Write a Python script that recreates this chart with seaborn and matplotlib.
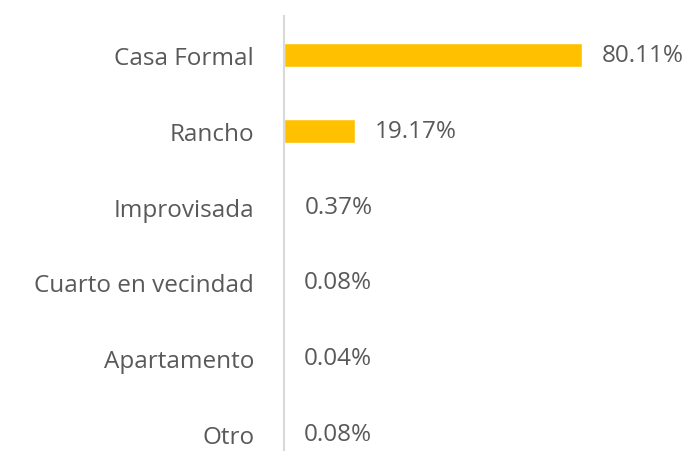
import matplotlib
matplotlib.use("Agg")
import matplotlib.pyplot as plt
import seaborn as sns
import pandas as pd

categories = ["Casa Formal", "Rancho", "Improvisada", "Cuarto en vecindad", "Apartamento", "Otro"]
values = [80.11, 19.17, 0.37, 0.08, 0.04, 0.08]
labels = ["80.11%", "19.17%", "0.37%", "0.08%", "0.04%", "0.08%"]

df = pd.DataFrame({"cat": categories, "val": values})

sns.set_style("white")
plt.rcParams["font.family"] = ["Open Sans", "DejaVu Sans"]

W, H = 690, 452
fig = plt.figure(figsize=(W / 100, H / 100), dpi=100)
ax = fig.add_axes([284 / W, 0, 372 / W, 435 / H])

sns.barplot(data=df, x="val", y="cat", orient="h", color="#FFC000",
            width=0.32, ax=ax, saturation=1)

ax.set_xlim(0, 100)
ax.set_ylim(5.224, -0.515)
ax.set_xlabel("")
ax.set_ylabel("")
ax.set_xticks([])
for s in ["top", "right", "bottom"]:
    ax.spines[s].set_visible(False)
ax.spines["left"].set_color("#D9D9D9")
ax.spines["left"].set_linewidth(1.5)
ax.tick_params(axis="y", length=0, pad=21.5, labelsize=17.5, labelcolor="#595959")

for i, (v, lab) in enumerate(zip(values, labels)):
    ax.annotate(lab, xy=(v, i), xytext=(14, 0), textcoords="offset points",
                ha="left", va="center", fontsize=17.5, color="#595959")

fig.savefig("out.png", dpi=100)
